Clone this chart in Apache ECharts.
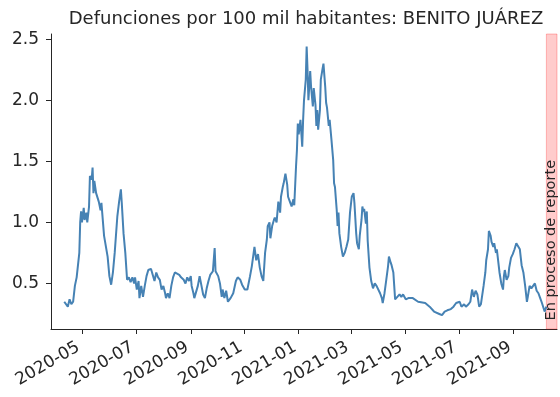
<!DOCTYPE html>
<html>
<head>
<meta charset="utf-8">
<script src="https://cdn.jsdelivr.net/npm/echarts@6/dist/echarts.min.js"></script>
<style>
  html, body { margin: 0; padding: 0; background: #fff; }
  #chart { width: 560px; height: 397px; }
</style>
</head>
<body>
<div id="chart"></div>
<script>
// Defunciones diarias por 100 mil habitantes (promedio móvil), Benito Juárez
const fechas = [
  '2020-04-11','2020-04-15','2020-04-17','2020-04-19','2020-04-21','2020-04-23','2020-04-25','2020-04-28','2020-04-29','2020-04-30',
  '2020-05-01','2020-05-03','2020-05-04','2020-05-06','2020-05-07','2020-05-09','2020-05-10','2020-05-12','2020-05-13','2020-05-14',
  '2020-05-15','2020-05-17','2020-05-18','2020-05-20','2020-05-22','2020-05-23','2020-05-25','2020-05-26','2020-05-28','2020-05-30',
  '2020-06-01','2020-06-03','2020-06-05','2020-06-07','2020-06-10','2020-06-12','2020-06-14','2020-06-15','2020-06-17','2020-06-19',
  '2020-06-21','2020-06-23','2020-06-25','2020-06-27','2020-06-29','2020-06-30','2020-07-02','2020-07-04','2020-07-05','2020-07-07',
  '2020-07-09','2020-07-11','2020-07-13','2020-07-15','2020-07-18','2020-07-20','2020-07-22','2020-07-24','2020-07-26','2020-07-28',
  '2020-07-30','2020-08-01','2020-08-03','2020-08-04','2020-08-06','2020-08-08','2020-08-10','2020-08-12','2020-08-14','2020-08-16',
  '2020-08-19','2020-08-21','2020-08-24','2020-08-26','2020-08-28','2020-08-30','2020-09-01','2020-09-02','2020-09-04','2020-09-05',
  '2020-09-07','2020-09-09','2020-09-11','2020-09-13','2020-09-15','2020-09-17','2020-09-19','2020-09-21','2020-09-23','2020-09-26',
  '2020-09-28','2020-09-29','2020-10-02','2020-10-04','2020-10-06','2020-10-07','2020-10-09','2020-10-11','2020-10-13','2020-10-16',
  '2020-10-19','2020-10-22','2020-10-24','2020-10-27','2020-10-29','2020-11-01','2020-11-04','2020-11-06','2020-11-07','2020-11-09',
  '2020-11-10','2020-11-12','2020-11-14','2020-11-16','2020-11-18','2020-11-20','2020-11-22','2020-11-24','2020-11-26','2020-11-27',
  '2020-11-29','2020-11-30','2020-12-02','2020-12-04','2020-12-05','2020-12-07','2020-12-09','2020-12-11','2020-12-12','2020-12-14',
  '2020-12-15','2020-12-17','2020-12-19','2020-12-20','2020-12-22','2020-12-24','2020-12-26','2020-12-27','2020-12-29','2020-12-30',
  '2020-12-31','2021-01-01','2021-01-03','2021-01-04','2021-01-05','2021-01-06','2021-01-07','2021-01-09','2021-01-10','2021-01-11',
  '2021-01-12','2021-01-14','2021-01-15','2021-01-17','2021-01-18','2021-01-20','2021-01-21','2021-01-22','2021-01-23','2021-01-25',
  '2021-01-26','2021-01-28','2021-01-29','2021-01-31','2021-02-01','2021-02-02','2021-02-04','2021-02-05','2021-02-07','2021-02-09',
  '2021-02-10','2021-02-11','2021-02-13','2021-02-14','2021-02-15','2021-02-16','2021-02-18','2021-02-20','2021-02-22','2021-02-24',
  '2021-02-26','2021-02-28','2021-03-02','2021-03-04','2021-03-05','2021-03-07','2021-03-08','2021-03-10','2021-03-11','2021-03-13',
  '2021-03-14','2021-03-15','2021-03-16','2021-03-18','2021-03-19','2021-03-20','2021-03-22','2021-03-24','2021-03-26','2021-03-28',
  '2021-03-30','2021-04-01','2021-04-03','2021-04-05','2021-04-06','2021-04-08','2021-04-10','2021-04-12','2021-04-13','2021-04-15',
  '2021-04-16','2021-04-18','2021-04-19','2021-04-20','2021-04-22','2021-04-25','2021-04-27','2021-04-29','2021-05-02','2021-05-05',
  '2021-05-10','2021-05-16','2021-05-24','2021-05-29','2021-06-03','2021-06-09','2021-06-12','2021-06-15','2021-06-18','2021-06-22',
  '2021-06-25','2021-06-28','2021-06-29','2021-07-02','2021-07-04','2021-07-07','2021-07-09','2021-07-12','2021-07-14','2021-07-16',
  '2021-07-18','2021-07-20','2021-07-22','2021-07-24','2021-07-26','2021-07-29','2021-07-31','2021-08-01','2021-08-03','2021-08-04',
  '2021-08-06','2021-08-07','2021-08-09','2021-08-10','2021-08-12','2021-08-13','2021-08-16','2021-08-18','2021-08-20','2021-08-21',
  '2021-08-22','2021-08-24','2021-08-26','2021-08-27','2021-08-29','2021-08-31','2021-09-02','2021-09-04','2021-09-06','2021-09-08',
  '2021-09-10','2021-09-12','2021-09-14','2021-09-16','2021-09-17','2021-09-19','2021-09-21','2021-09-23','2021-09-25','2021-09-27',
  '2021-09-29','2021-10-01','2021-10-03','2021-10-04','2021-10-06','2021-10-08'
];
const valores = [
  0.35,0.31,0.37,0.33,0.35,0.48,0.55,0.75,1.00,1.09,
  1.00,1.12,1.02,1.08,1.00,1.13,1.38,1.35,1.45,1.24,
  1.34,1.24,1.23,1.17,1.10,1.16,1.16,0.89,0.89,0.72,
  0.56,0.49,0.59,0.75,1.05,1.17,1.27,1.16,0.91,0.75,
  0.53,0.55,0.51,0.55,0.50,0.55,0.45,0.52,0.38,0.48,
  0.39,0.48,0.56,0.61,0.62,0.62,0.52,0.59,0.55,0.53,
  0.45,0.48,0.42,0.38,0.42,0.38,0.48,0.55,0.59,0.59,
  0.57,0.55,0.53,0.50,0.55,0.52,0.56,0.48,0.42,0.38,
  0.39,0.48,0.56,0.56,0.41,0.38,0.46,0.52,0.57,0.60,
  0.79,0.60,0.56,0.50,0.39,0.45,0.38,0.44,0.35,0.38,
  0.42,0.52,0.55,0.53,0.49,0.45,0.45,0.45,0.56,0.64,
  0.63,0.80,0.69,0.74,0.63,0.56,0.52,0.75,0.86,0.97,
  1.00,0.87,0.97,1.02,1.04,1.00,1.17,1.08,1.21,1.29,
  1.32,1.40,1.31,1.21,1.17,1.13,1.19,1.14,1.46,1.59,
  1.81,1.72,1.84,1.73,1.62,1.84,2.00,2.17,2.44,2.25,
  2.00,2.24,2.11,1.95,2.10,1.96,1.79,1.92,1.76,1.92,
  2.17,2.26,2.30,2.11,1.98,1.94,1.79,1.84,1.68,1.51,
  1.32,1.29,1.10,0.97,1.08,0.91,0.80,0.72,0.75,0.80,
  0.86,1.08,1.21,1.24,1.16,0.91,0.83,0.78,0.89,1.02,
  1.13,1.09,1.11,0.99,1.09,0.85,0.63,0.52,0.46,0.50,
  0.48,0.48,0.42,0.38,0.34,0.42,0.53,0.64,0.72,0.67,
  0.65,0.59,0.48,0.37,0.38,0.41,0.39,0.41,0.37,0.38,
  0.38,0.35,0.34,0.31,0.27,0.25,0.24,0.27,0.28,0.29,
  0.31,0.34,0.33,0.35,0.31,0.33,0.31,0.33,0.35,0.45,
  0.39,0.44,0.41,0.31,0.33,0.48,0.59,0.69,0.78,0.93,
  0.89,0.84,0.80,0.83,0.75,0.78,0.59,0.50,0.45,0.56,
  0.61,0.53,0.56,0.63,0.71,0.74,0.78,0.83,0.83,0.78,
  0.65,0.59,0.48,0.35,0.39,0.48,0.46,0.45,0.50,0.44,
  0.42,0.38,0.34,0.33,0.27,0.31
];

// Marcas de los ejes
const ticksX = ['2020-05-01','2020-07-01','2020-09-01','2020-11-01','2021-01-01','2021-03-01','2021-05-01','2021-07-01','2021-09-01'];
const ticksY = [0.5, 1.0, 1.5, 2.0, 2.5];

// Rango visible y periodo aún en proceso de reporte
const inicioEje = '2020-03-27';
const finEje = '2021-10-20';
const inicioReporte = '2021-10-08';

const titulo = 'Defunciones por 100 mil habitantes: BENITO JUÁREZ';
const etiquetaReporte = 'En proceso de reporte';

const ts = s => { const [y, m, d] = s.split('-').map(Number); return new Date(y, m - 1, d).getTime(); };
const pad = n => (n < 10 ? '0' : '') + n;

const chart = echarts.init(document.getElementById('chart'), null, { renderer: 'canvas' });
const fuente = 'DejaVu Sans';

chart.setOption({
  animation: false,
  backgroundColor: '#ffffff',
  textStyle: { fontFamily: fuente },
  title: {
    text: titulo,
    left: 301,
    textAlign: 'center',
    top: 5,
    textStyle: { fontFamily: fuente, fontSize: 18, fontWeight: 'normal', color: '#262626' }
  },
  grid: { left: 51, right: 3, top: 34, bottom: 68 },
  xAxis: {
    type: 'value',
    min: ts(inicioEje),
    max: ts(finEje),
    splitLine: { show: false },
    axisLine: { show: true, lineStyle: { color: '#262626', width: 1 } },
    axisTick: { show: true, length: 5, lineStyle: { color: '#262626', width: 1 }, customValues: ticksX.map(ts) },
    axisLabel: {
      customValues: ticksX.map(ts),
      rotate: 30,
      margin: 15,
      padding: [0, 4, 0, 0],
      fontFamily: fuente,
      fontSize: 17,
      color: '#262626',
      formatter: v => { const d = new Date(v); return d.getFullYear() + '-' + pad(d.getMonth() + 1); }
    }
  },
  yAxis: {
    type: 'value',
    min: 0.127,
    max: 2.543,
    splitLine: { show: false },
    axisLine: { show: true, lineStyle: { color: '#262626', width: 1 } },
    axisTick: { show: true, length: 5, lineStyle: { color: '#262626', width: 1 }, customValues: ticksY },
    axisLabel: {
      customValues: ticksY,
      margin: 12,
      fontFamily: fuente,
      fontSize: 17,
      color: '#262626',
      formatter: v => Number(v).toFixed(1)
    }
  },
  series: [{
    type: 'line',
    data: fechas.map((f, i) => [ts(f), valores[i]]),
    showSymbol: false,
    symbol: 'none',
    lineStyle: { color: '#4682b4', width: 2 },
    itemStyle: { color: '#4682b4' },
    markArea: {
      silent: true,
      itemStyle: { color: 'rgba(255,0,0,0.2)', borderColor: 'rgba(255,0,0,0.25)', borderWidth: 1 },
      label: {
        show: true,
        position: 'insideBottom',
        distance: 9,
        rotate: 90,
        align: 'left',
        verticalAlign: 'middle',
        fontFamily: fuente,
        fontSize: 14.5,
        color: '#262626'
      },
      data: [[
        { name: etiquetaReporte, xAxis: ts(inicioReporte) },
        { xAxis: ts(finEje) }
      ]]
    }
  }]
});
</script>
</body>
</html>
